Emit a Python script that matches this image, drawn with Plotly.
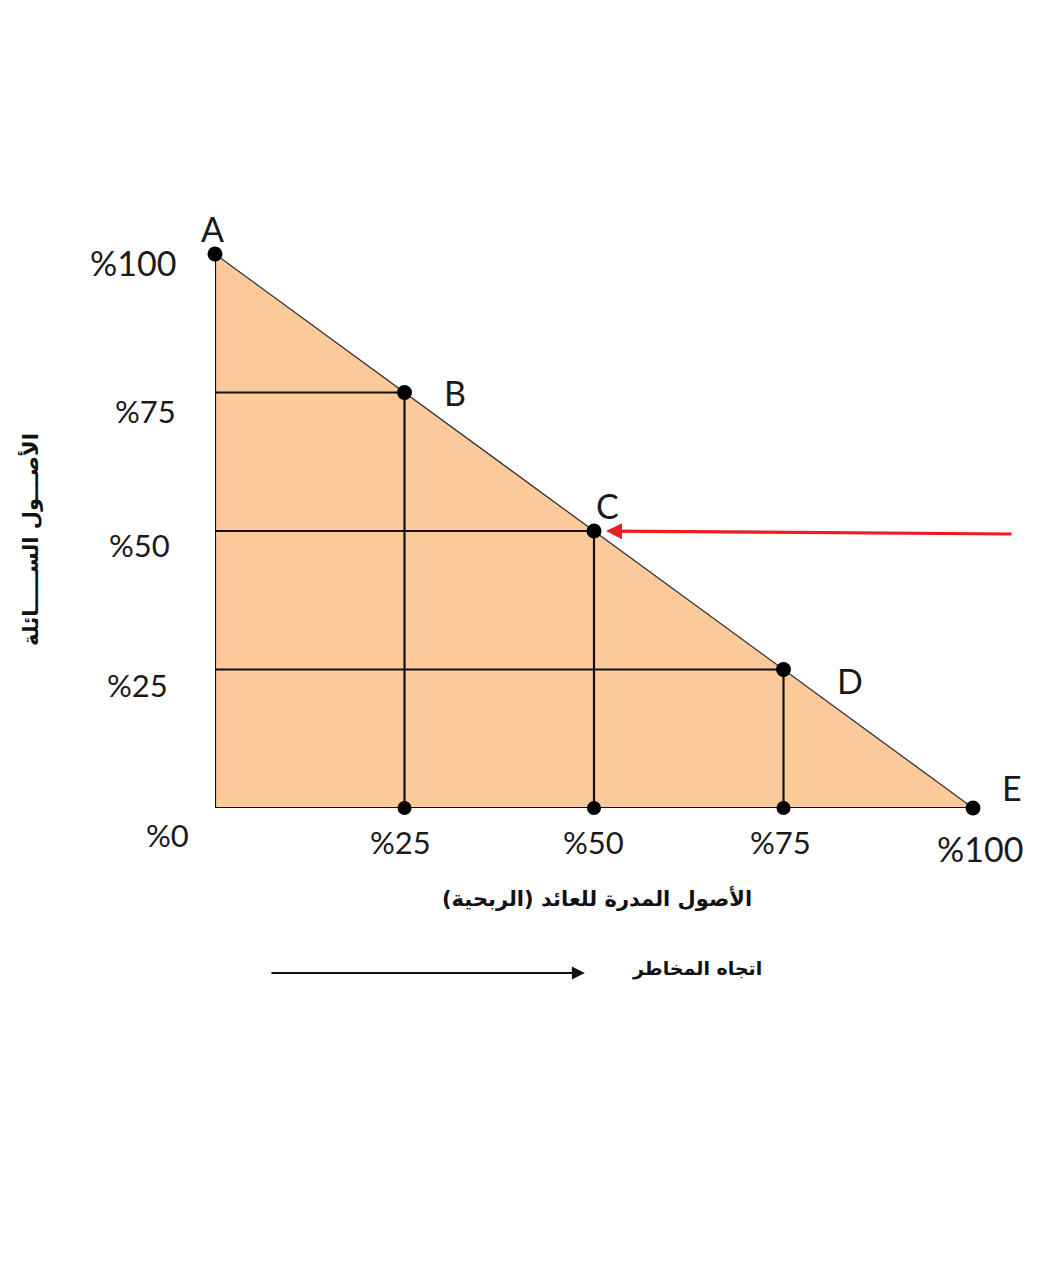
import plotly.graph_objects as go

# ---- data ----
point_names = ["A", "B", "C", "D", "E"]
earning_share = [0, 25, 50, 75, 100]     # x: الأصول المدرة للعائد
liquid_share = [100, 75, 50, 25, 0]      # y: الأصول السائلة
x_tick_vals = [0, 25, 50, 75, 100]
x_tick_text = ["%0", "%25", "%50", "%75", "%100"]
y_tick_vals = [100, 75, 50, 25]
y_tick_text = ["%100", "%75", "%50", "%25"]
x_title = "الأصول المدرة للعائد (الربحية)"
y_title = "الأصـــول الســـــائلة"
risk_label = "اتجاه المخاطر"

W, H = 1047, 1280
# page body has an 8px margin
ML, MR, MT, MB = 207, 82, 246, 480

FILL = "#FBC99A"
LINE = "#111111"
RED = "#EE1C25"
LAT = "Lato, 'Open Sans', sans-serif"
AR = "'DejaVu Sans', 'Noto Sans', sans-serif"

fig = go.Figure()

# triangle fill
tri_x = [earning_share[0], earning_share[0], earning_share[-1], earning_share[0]]
tri_y = [liquid_share[-1], liquid_share[0], liquid_share[-1], liquid_share[-1]]
fig.add_trace(go.Scatter(x=tri_x, y=tri_y, mode="lines", fill="toself",
                         fillcolor=FILL, line=dict(color="#333333", width=1.3),
                         hoverinfo="skip", showlegend=False, cliponaxis=False))

# horizontal + vertical grid lines from each inner point
for xv, yv in zip(earning_share[1:-1], liquid_share[1:-1]):
    fig.add_trace(go.Scatter(x=[0, xv], y=[yv, yv], mode="lines",
                             line=dict(color=LINE, width=2.2), showlegend=False,
                             hoverinfo="skip", cliponaxis=False))
    fig.add_trace(go.Scatter(x=[xv, xv], y=[0, yv], mode="lines",
                             line=dict(color=LINE, width=2.2), showlegend=False,
                             hoverinfo="skip", cliponaxis=False))
# axes edges
fig.add_trace(go.Scatter(x=[0, 0, 100], y=[100, 0, 0], mode="lines",
                         line=dict(color=LINE, width=2.2), showlegend=False,
                         hoverinfo="skip", cliponaxis=False))

# markers on the line and on the x axis
fig.add_trace(go.Scatter(x=earning_share, y=liquid_share, mode="markers",
                         marker=dict(color="black", size=15), showlegend=False,
                         cliponaxis=False))
fig.add_trace(go.Scatter(x=earning_share[1:-1], y=[0] * 3, mode="markers",
                         marker=dict(color="black", size=14), showlegend=False,
                         cliponaxis=False))

ann = []
# point letters
letter_shift = {"A": (-3, 26), "B": (50, 0), "C": (13, 26), "D": (66, -11), "E": (39, 21)}
for n, xv, yv in zip(point_names, earning_share, liquid_share):
    dx, dy = letter_shift[n]
    ann.append(dict(x=xv, y=yv, xref="x", yref="y", text=n, showarrow=False,
                    xshift=dx, yshift=dy, font=dict(family=LAT, size=34, color="#1a1a1a")))

# y tick labels
y_shift = {100: (-37, -8, 34), 75: (-37, -18, 31), 50: (-43, -14, 31), 25: (-45, -15, 31)}
for v, t in zip(y_tick_vals, y_tick_text):
    dx, dy, fs = y_shift[v]
    ann.append(dict(x=0, y=v, xref="x", yref="y", text=t, showarrow=False,
                    xanchor="right", xshift=dx, yshift=dy,
                    font=dict(family=LAT, size=fs, color="#1a1a1a")))

# x tick labels
x_shift = {0: (-48, -27, 31), 25: (-4, -34, 31), 50: (-1, -34, 31), 75: (-3, -34, 31), 100: (7, -40, 34)}
for v, t in zip(x_tick_vals, x_tick_text):
    dx, dy, fs = x_shift[v]
    ann.append(dict(x=v, y=0, xref="x", yref="y", text=t, showarrow=False,
                    xshift=dx, yshift=dy, font=dict(family=LAT, size=fs, color="#1a1a1a")))

# axis titles (paper coordinates so they are drawn outside the axis range)
ann.append(dict(x=0.504, y=-0.1625, xref="paper", yref="paper", text="<b>" + x_title + "</b>",
                xanchor="center", yanchor="middle",
                showarrow=False, font=dict(family=AR, size=21, color="#111111")))
ann.append(dict(x=-0.244, y=0.484, xref="paper", yref="paper", text="<b>" + y_title + "</b>",
                xanchor="center", yanchor="middle",
                showarrow=False, textangle=-90, font=dict(family=AR, size=21, color="#111111")))

# red arrow pointing to C
ann.append(dict(x=earning_share[2], y=liquid_share[2], xref="x", yref="y", text="",
                showarrow=True, ax=419, ay=3,
                standoff=12, arrowhead=2, arrowsize=1.0, arrowwidth=3.2, arrowcolor=RED))

# risk direction arrow
ann.append(dict(x=0.488, y=-0.298, xref="paper", yref="paper", text="", showarrow=True,
                ax=-315, ay=0, arrowhead=2, arrowsize=1.3, arrowwidth=2,
                arrowcolor="#111111"))
ann.append(dict(x=0.636, y=-0.289, xref="paper", yref="paper", text="<b>" + risk_label + "</b>",
                xanchor="center", yanchor="middle",
                showarrow=False, font=dict(family=AR, size=19, color="#111111")))

fig.update_layout(
    width=W, height=H,
    margin=dict(l=ML, r=MR, t=MT, b=MB),
    paper_bgcolor="white", plot_bgcolor="white",
    xaxis=dict(range=[0, 100], visible=False, fixedrange=True),
    yaxis=dict(range=[0, 100], visible=False, fixedrange=True),
    annotations=ann, showlegend=False,
)

fig.write_html("out.html")
